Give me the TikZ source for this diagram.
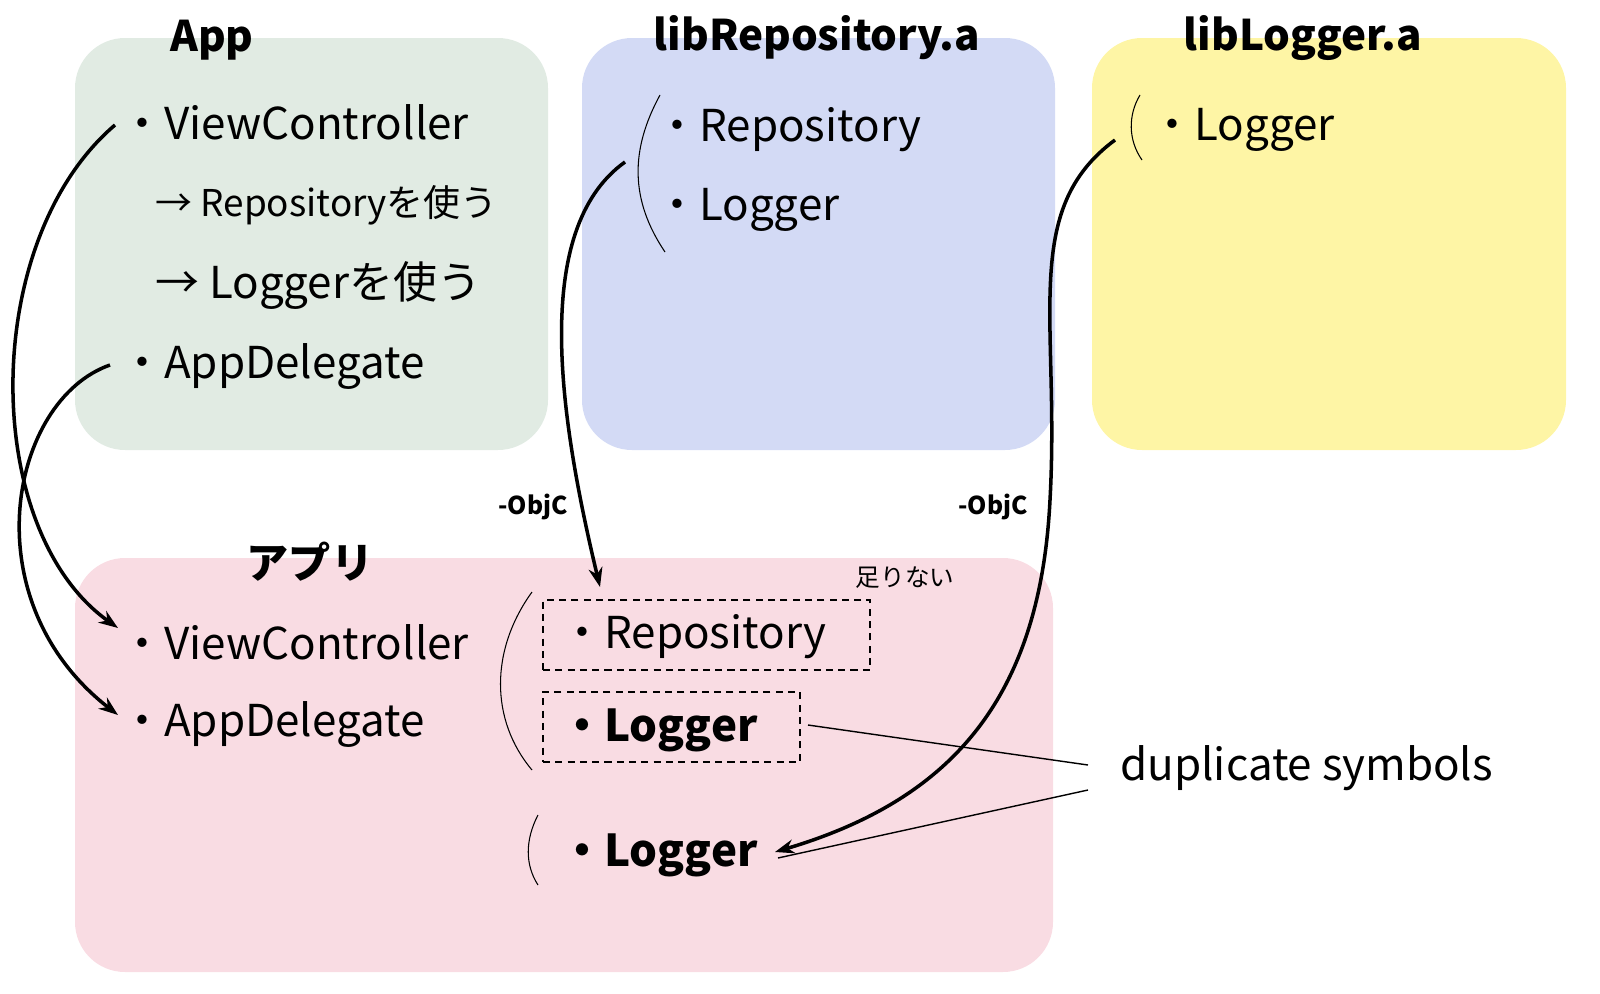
\documentclass[tikz,border=0pt]{standalone}
\usepackage{fontspec}
\setmainfont{Noto Sans CJK JP}
\usetikzlibrary{arrows.meta}
\definecolor{cg}{HTML}{E1EBE3}
\definecolor{cb}{HTML}{D3DAF5}
\definecolor{cy}{HTML}{FEF5A5}
\definecolor{cp}{HTML}{F9DCE3}
\begin{document}
\begin{tikzpicture}[x=0.02cm,y=-0.02cm,
  box/.style={rounded corners=50*0.02cm},
  ttl/.style={font=\fontsize{24}{26}\selectfont\bfseries},
  itm/.style={anchor=west,inner sep=0,font=\fontsize{25}{27}\selectfont},
  sm/.style={anchor=west,inner sep=0,font=\fontsize{21}{23}\selectfont},
  arr/.style={line width=2pt,-{Stealth[length=11pt,width=8pt]}},
  par/.style={line width=0.6pt},
  dbox/.style={draw,line width=1.6pt,dash pattern=on 4pt off 3pt}]
\useasboundingbox (0,0) rectangle (1600,994);
\fill[cg,box] (75,38) rectangle (548,450);
\fill[cb,box] (582,38) rectangle (1055,450);
\fill[cy,box] (1092,38) rectangle (1566,450);
\fill[cp,box] (75,558) rectangle (1053,972);
\node[ttl] (t1) at (212,40) {App};
\node[ttl] (t2) at (817,38) {libRepository.a};
\node[ttl] (t3) at (1303,38) {libLogger.a};
\node[ttl] (t4) at (310,562) {アプリ};
% App
\node[itm] (a1) at (120,122) {・ViewController};
\node[sm] (a2) at (155,205) {→ Repositoryを使う};
\node[itm] (a3) at (155,285) {→ Loggerを使う};
\node[itm] (a4) at (120,367) {・AppDelegate};
% repo
\node[itm] (r1) at (655,130) {・Repository};
\node[itm] (r2) at (655,210) {・Logger};
\draw[par] (660,95) .. controls (630,150) and (630,200) .. (665,252);
% logger
\node[itm] (l1) at (1150,130) {・Logger};
\draw[par] (1140,95) .. controls (1128,115) and (1128,140) .. (1142,160);
% app bottom
\node[itm] (p1) at (120,642) {・ViewController};
\node[itm] (p2) at (120,725) {・AppDelegate};
\draw[par] (532,592) .. controls (490,650) and (490,720) .. (532,770);
\node[dbox,minimum width=327*0.02cm,minimum height=70*0.02cm] (d1) at (706.5,635) {};
\node[itm] (p3) at (560,637) {・Repository};
\node[dbox,minimum width=257*0.02cm,minimum height=70*0.02cm] (d2) at (671.5,727) {};
\node[itm,font=\fontsize{25}{27}\selectfont\bfseries] (p4) at (560,730) {・Logger};
\node[font=\fontsize{14}{16}\selectfont] (nt) at (905,578) {足りない};
\draw[par] (538,815) .. controls (525,840) and (525,865) .. (538,885);
\node[itm,font=\fontsize{25}{27}\selectfont\bfseries] (p5) at (560,855) {・Logger};
\node[itm] (dup) at (1120,768) {duplicate symbols};
\node[font=\fontsize{14}{16}\selectfont\bfseries] (o1) at (533,507) {-ObjC};
\node[font=\fontsize{14}{16}\selectfont\bfseries] (o2) at (993,507) {-ObjC};
\coordinate (s1) at (115,125); \coordinate (e1) at (118,628);
\coordinate (s2) at (110,365); \coordinate (e2) at (118,715);
\coordinate (s3) at (625,162); \coordinate (e3) at (600,587);
\coordinate (s4) at (1115,140); \coordinate (e4) at (775,852);
\coordinate (dj) at (1088,765); \coordinate (dk) at (1088,790);
\coordinate (q1) at (808,725); \coordinate (q2) at (778,858);
\draw[arr] (s1) .. controls (-20,240) and (-20,530) .. (e1);
\draw[arr] (s2) .. controls (10,400) and (-30,600) .. (e2);
\draw[arr] (s3) .. controls (530,230) and (560,420) .. (e3);
\draw[arr] (s4) .. controls (1020,210) and (1060,320) .. (1050,500) .. controls (1040,700) and (950,800) .. (e4);
\draw[line width=0.8pt] (q1) -- (dj);
\draw[line width=0.8pt] (q2) -- (dk);
\end{tikzpicture}
\end{document}
